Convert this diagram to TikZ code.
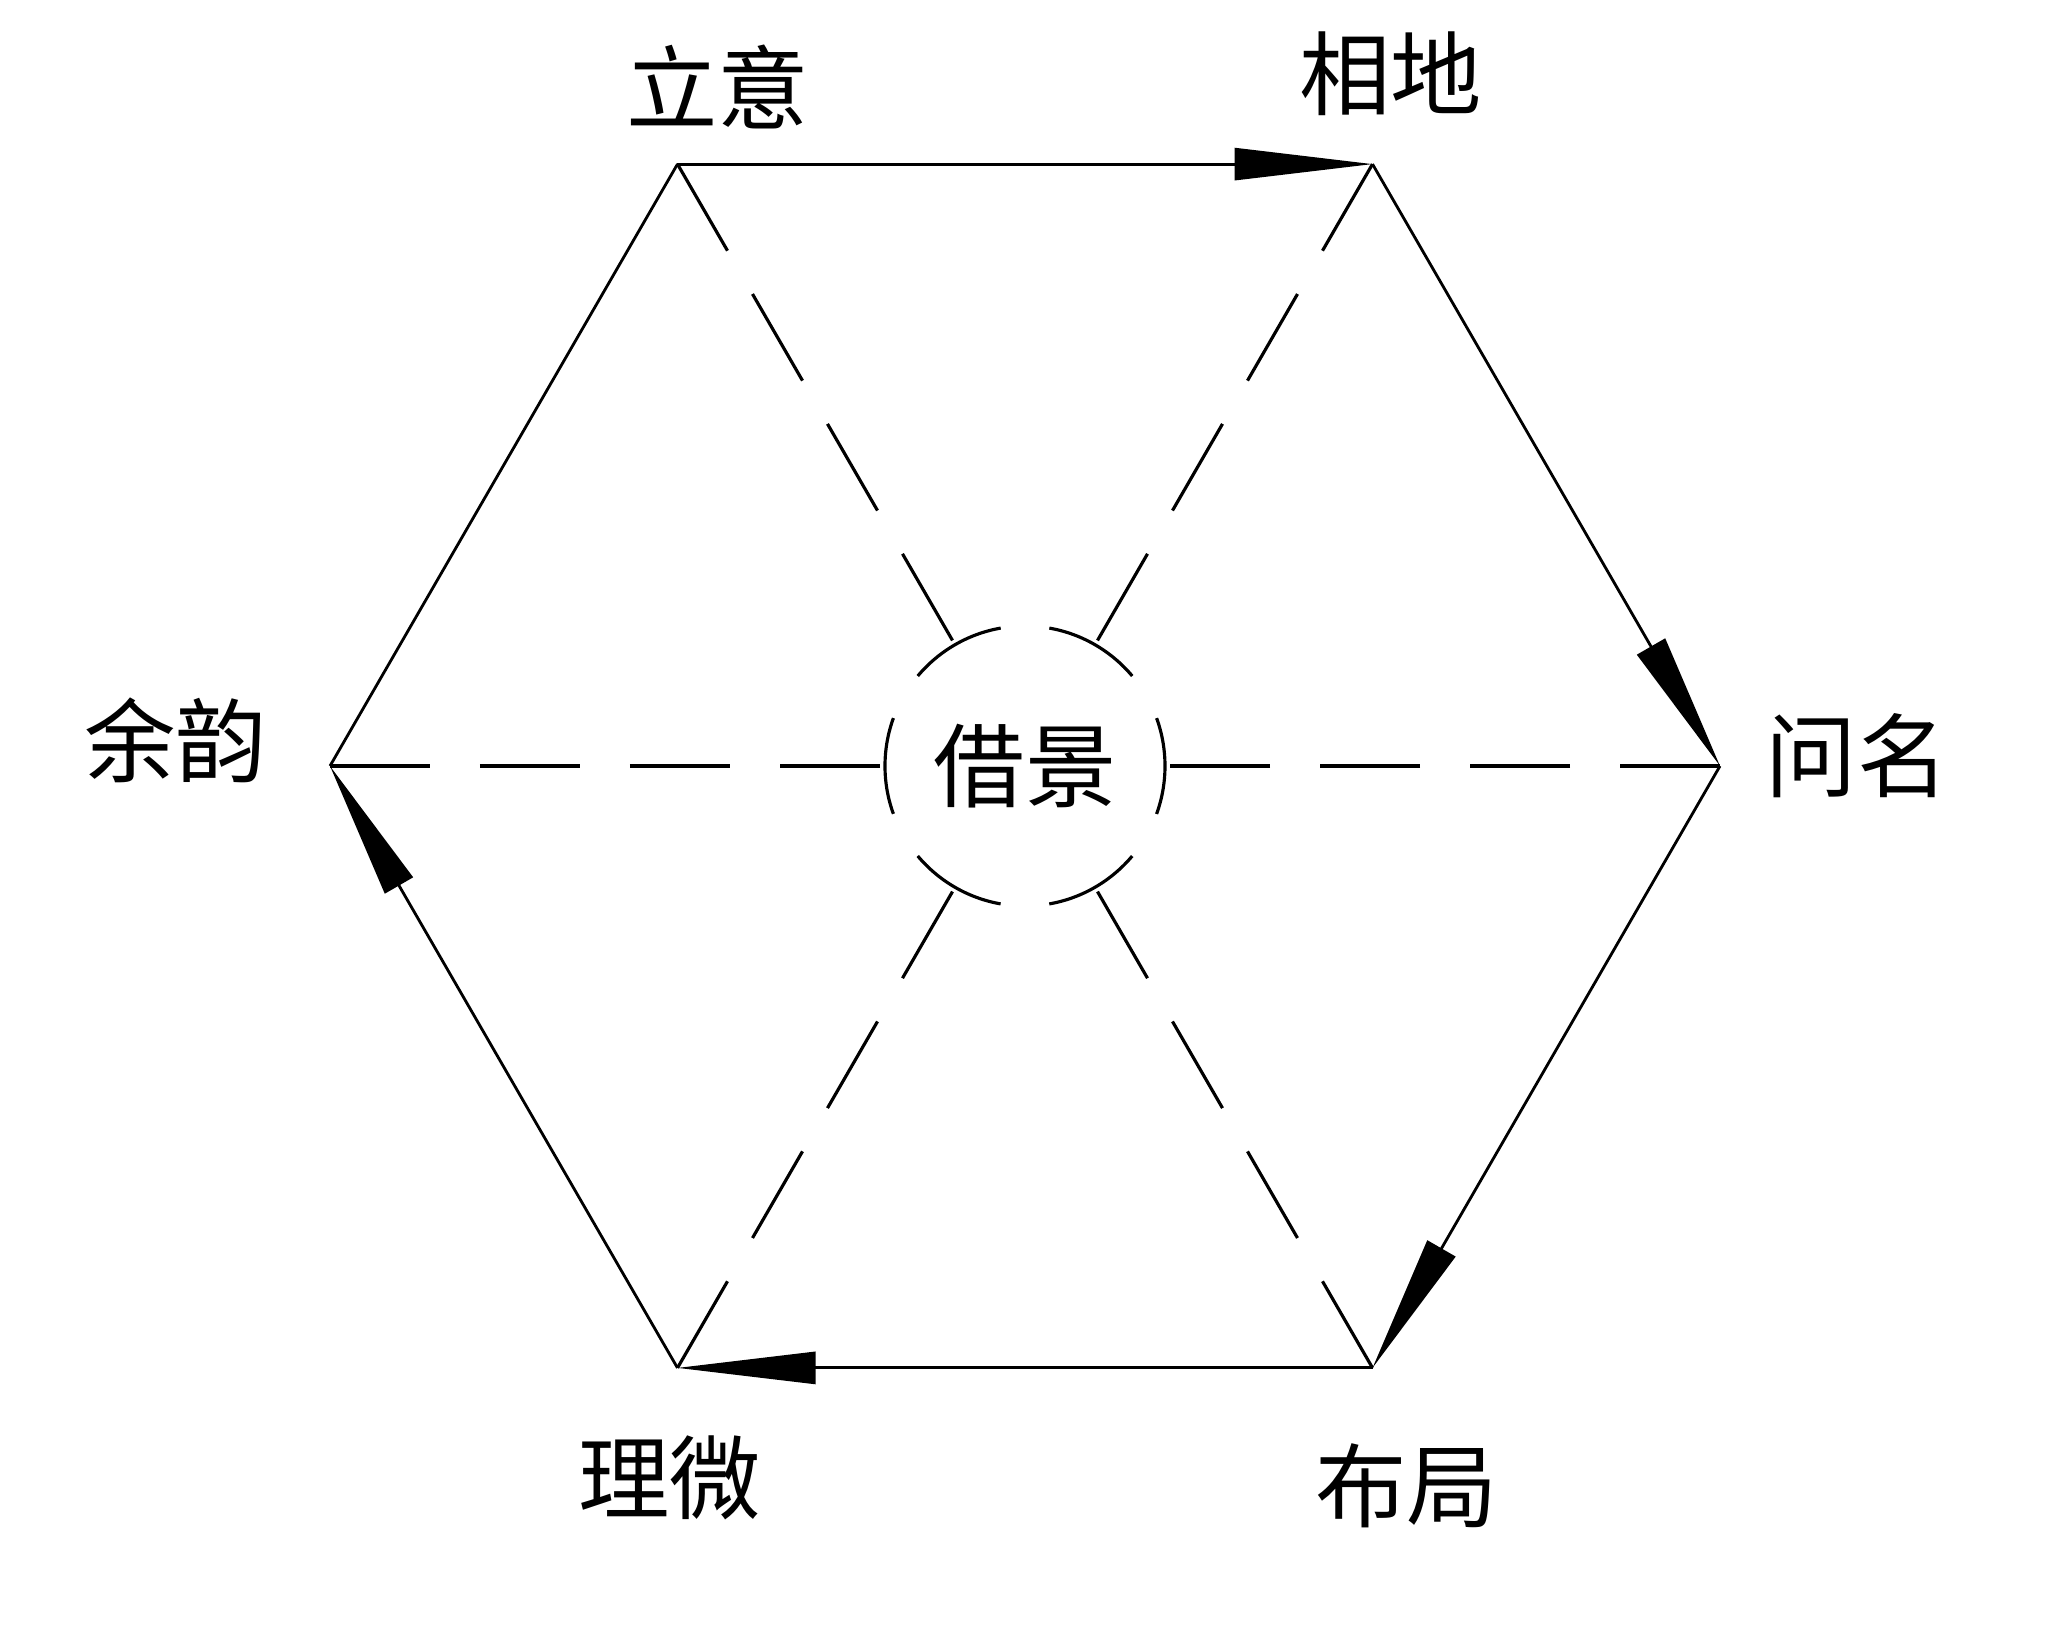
\documentclass[tikz,border=0pt]{standalone}
\usepackage{fontspec}
\newfontfamily\cjk{Noto Sans CJK SC}
\usetikzlibrary{positioning, arrows.meta}

\tikzset{
    lab/.style={font=\cjk\fontsize{26}{26}\selectfont, inner sep=0pt},
    side/.style={line width=0.8pt},
    spoke/.style={line width=0.9pt, dash pattern=on 1cm off 0.5cm},
    arr/.style={-{Triangle[length=1.38cm, width=0.32cm]}}
}

\begin{document}
\begin{tikzpicture}
    \useasboundingbox (-10.25,-8.82) rectangle (10.31,7.66);

    % corners of the hexagon
    \coordinate (wenming) at (0:6.95);
    \coordinate (xiangdi) at (60:6.95);
    \coordinate (liyi) at (120:6.95);
    \coordinate (yuyun) at (180:6.95);
    \coordinate (liwei) at (240:6.95);
    \coordinate (buju) at (300:6.95);

    % centre, broken circle
    \node (jj) [lab, circle, draw, line width=0.9pt, minimum size=2.8cm,
        dash pattern=on 0.9774cm off 0.4887cm, dash phase=0.4887cm] {借景};

    % names at the corners
    \node (liyi-t) [lab, above right=0.77cm and 0.4cm of liyi, anchor=center] {立意};
    \node (xiangdi-t) [lab, above right=0.9cm and 0.18cm of xiangdi, anchor=center] {相地};
    \node (wenming-t) [lab, above right=0.1cm and 1.37cm of wenming, anchor=center] {问名};
    \node (buju-t) [lab, below right=1.18cm and 0.34cm of buju, anchor=center] {布局};
    \node (liwei-t) [lab, below right=1.1cm and -0.08cm of liwei, anchor=center] {理微};
    \node (yuyun-t) [lab, above left=0.26cm and 1.54cm of yuyun, anchor=center] {余韵};

    % the ring
    \draw [side, arr] (liyi) -- (xiangdi);
    \draw [side, arr] (xiangdi) -- (wenming);
    \draw [side, arr] (wenming) -- (buju);
    \draw [side, arr] (buju) -- (liwei);
    \draw [side, arr] (liwei) -- (yuyun);
    \draw [side] (yuyun) -- (liyi);

    % spokes to the centre
    \foreach \v in {liyi, xiangdi, wenming, buju, liwei, yuyun}
        \draw [spoke] (\v) -- (jj);
\end{tikzpicture}
\end{document}
